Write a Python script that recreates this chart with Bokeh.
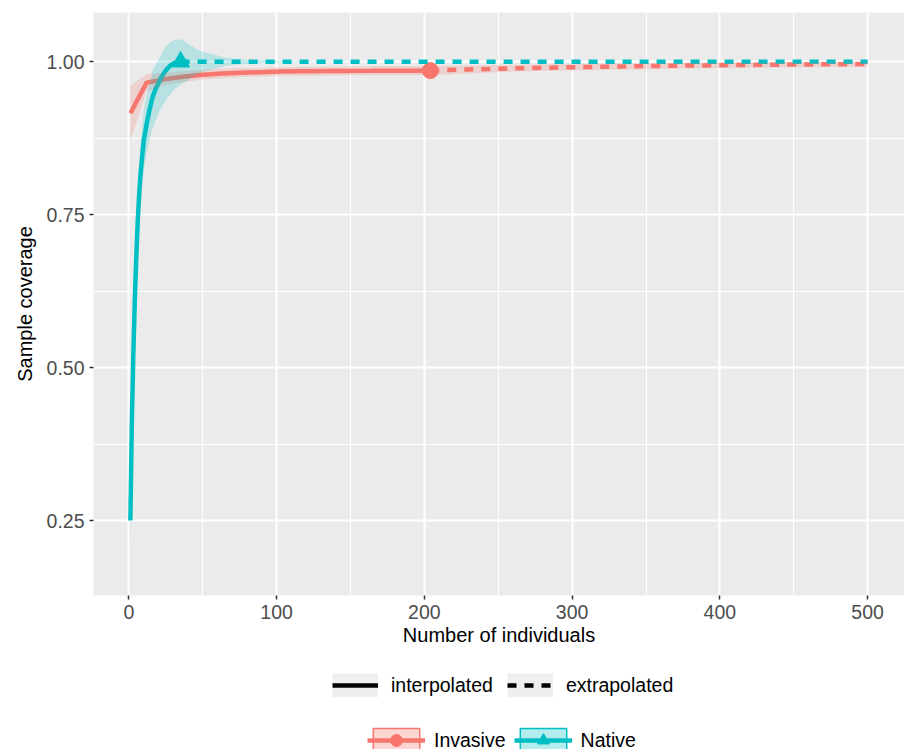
from bokeh.plotting import figure
from bokeh.layouts import column
from bokeh.models import Range1d, FixedTicker, Legend, LegendItem
from bokeh.embed import file_html
from bokeh.resources import INLINE

# ---------------- data ----------------
groups = ["Invasive", "Native"]
methods = ["interpolated", "extrapolated"]

# Invasive assemblage
inv_int_m = [1, 12, 25, 38, 50, 63, 76, 89, 102, 115, 140, 165, 190, 204]
inv_int_cov = [0.916, 0.966, 0.972, 0.976, 0.979, 0.981, 0.982, 0.983, 0.984, 0.9845, 0.985, 0.9852, 0.9855, 0.9856]
inv_int_lo = [0.871, 0.952, 0.962, 0.967, 0.971, 0.973, 0.975, 0.976, 0.977, 0.977, 0.978, 0.978, 0.978, 0.978]
inv_int_hi = [0.961, 0.980, 0.982, 0.985, 0.987, 0.989, 0.990, 0.990, 0.991, 0.992, 0.992, 0.993, 0.993, 0.993]
inv_ext_m = [204, 230, 260, 300, 350, 400, 450, 500]
inv_ext_cov = [0.9856, 0.9875, 0.9893, 0.9912, 0.993, 0.9945, 0.9955, 0.9963]
inv_ext_lo = [0.978, 0.981, 0.984, 0.986, 0.988, 0.990, 0.991, 0.992]
inv_ext_hi = [0.993, 0.994, 0.995, 0.9965, 0.9978, 0.999, 0.9998, 1.0005]
inv_obs_m = [204]
inv_obs_cov = [0.9856]

# Native assemblage
nat_int_m = [1, 2, 3, 4, 5, 6, 7, 8, 10, 12, 14, 16, 18, 20, 22, 25, 28, 31, 35]
nat_int_cov = [0.25, 0.41, 0.52, 0.61, 0.68, 0.74, 0.785, 0.82, 0.87, 0.898, 0.922,
               0.942, 0.955, 0.965, 0.975, 0.986, 0.994, 0.998, 1.0]
nat_int_lo = [0.20, 0.36, 0.47, 0.56, 0.63, 0.69, 0.735, 0.77, 0.82, 0.85, 0.872,
              0.89, 0.903, 0.915, 0.925, 0.937, 0.947, 0.955, 0.963]
nat_int_hi = [0.30, 0.46, 0.57, 0.66, 0.73, 0.79, 0.835, 0.87, 0.92, 0.946, 0.964,
              0.985, 0.995, 1.003, 1.012, 1.025, 1.032, 1.036, 1.037]
nat_ext_m = [35, 40, 45, 50, 57, 65, 75, 90, 120, 200, 300, 400, 500]
nat_ext_cov = [1.0] * 13
nat_ext_lo = [0.963, 0.970, 0.978, 0.984, 0.988, 0.993, 0.996, 0.998, 0.9995, 1.0, 1.0, 1.0, 1.0]
nat_ext_hi = [1.037, 1.030, 1.022, 1.016, 1.0125, 1.007, 1.004, 1.002, 1.0005, 1.0, 1.0, 1.0, 1.0]
nat_obs_m = [35]
nat_obs_cov = [1.0]

x_ticks = [0, 100, 200, 300, 400, 500]
x_minor = [50, 150, 250, 350, 450]
y_ticks = [0.25, 0.50, 0.75, 1.00]
y_tick_labels = ["0.25", "0.50", "0.75", "1.00"]
y_minor = [0.125, 0.375, 0.625, 0.875]

x_title = "Number of individuals"
y_title = "Sample coverage"

# ---------------- style ----------------
RED = "#F8766D"
TEAL = "#00BFC4"
FONT = "Liberation Sans"
LW = 4.5
DASH = "9 8"
W = 904
H_MAIN = 660
H_LEG = 749 - H_MAIN
FRAME_LEFT = 93

p = figure(width=W, height=H_MAIN,
           x_range=Range1d(-23.95, 524.95), y_range=Range1d(0.1275, 1.0806),
           output_backend="svg", toolbar_location=None,
           min_border_left=FRAME_LEFT, min_border_right=0, min_border_top=12,
           min_border_bottom=H_MAIN - 595)
p.background_fill_color = "#EBEBEB"
p.border_fill_color = "white"
p.outline_line_color = None

# axes / grid
p.xaxis.ticker = FixedTicker(ticks=x_ticks, minor_ticks=x_minor)
p.yaxis.ticker = FixedTicker(ticks=y_ticks, minor_ticks=y_minor)
p.yaxis.major_label_overrides = {t: l for t, l in zip(y_ticks, y_tick_labels)}
for ax in (p.xaxis, p.yaxis):
    ax.axis_line_color = None
    ax.major_tick_line_color = "#333333"
    ax.major_tick_line_width = 1.5
    ax.major_tick_out = 4
    ax.major_tick_in = 0
    ax.minor_tick_out = 0
    ax.minor_tick_in = 0
    ax.major_label_text_color = "#4D4D4D"
    ax.major_label_text_font = FONT
    ax.major_label_text_font_size = "19.5px"
    ax.axis_label_text_font = FONT
    ax.axis_label_text_font_size = "20px"
    ax.axis_label_text_font_style = "normal"
    ax.axis_label_text_color = "black"
p.xaxis.major_label_standoff = 5
p.xaxis.axis_label_standoff = 2
p.yaxis.major_label_standoff = 5
p.yaxis.axis_label_standoff = 8
p.xaxis.axis_label = x_title
p.yaxis.axis_label = y_title

for g in (p.xgrid, p.ygrid):
    g.grid_line_color = "white"
    g.grid_line_width = 2
    g.minor_grid_line_color = "white"
    g.minor_grid_line_width = 1

# observed points
p.scatter(inv_obs_m, inv_obs_cov, marker="circle", size=16, color=RED)
p.scatter(nat_obs_m, nat_obs_cov, marker="triangle", size=18, color=TEAL)

# lines
p.line(inv_int_m, inv_int_cov, line_color=RED, line_width=LW)
p.line(inv_ext_m, inv_ext_cov, line_color=RED, line_width=LW, line_dash=DASH)
p.line(nat_int_m, nat_int_cov, line_color=TEAL, line_width=LW)
p.line(nat_ext_m, nat_ext_cov, line_color=TEAL, line_width=LW, line_dash=DASH)

# confidence ribbons (drawn on top, as in ggiNEXT)
p.varea(x=inv_int_m + inv_ext_m[1:], y1=inv_int_lo + inv_ext_lo[1:], y2=inv_int_hi + inv_ext_hi[1:],
        fill_color=RED, fill_alpha=0.22)
p.varea(x=nat_int_m + nat_ext_m[1:], y1=nat_int_lo + nat_ext_lo[1:], y2=nat_int_hi + nat_ext_hi[1:],
        fill_color=TEAL, fill_alpha=0.22)

# ---------------- legend strip (separate canvas below the plot) ----------------
q = figure(width=W, height=H_LEG, x_range=Range1d(0, 1), y_range=Range1d(0, 1),
           output_backend="svg", toolbar_location=None,
           x_axis_type=None, y_axis_type=None,
           min_border_left=0, min_border_right=0, min_border_top=0, min_border_bottom=0)
q.grid.visible = False
q.outline_line_color = None
q.background_fill_color = "white"
q.border_fill_color = "white"

# hidden proxy renderers used only to draw the legend keys
bg_a = q.line(inv_int_m, inv_int_cov, line_color="#EFEFEF", line_width=24, visible=False)
bg_b = q.line(inv_int_m, inv_int_cov, line_color="#EFEFEF", line_width=24, visible=False)
k_solid = q.line(inv_int_m, inv_int_cov, line_color="black", line_width=LW, visible=False)
k_dash = q.line(inv_int_m, inv_int_cov, line_color="black", line_width=LW, line_dash=DASH, visible=False)

# the legend strip's frame is aligned with the main plot frame (left edge at FRAME_LEFT)
LEG1_TOP = 673 - H_MAIN
LEG2_TOP = 725 - H_MAIN
leg1 = Legend(items=[LegendItem(label=methods[0], renderers=[bg_a, k_solid]),
                     LegendItem(label=methods[1], renderers=[bg_b, k_dash])],
              location=(332 - FRAME_LEFT, H_LEG - LEG1_TOP - 24), orientation="horizontal",
              glyph_width=46, glyph_height=24, label_standoff=13, spacing=14,
              padding=0, margin=0, border_line_alpha=0, background_fill_alpha=0,
              inactive_fill_alpha=0,
              label_text_font=FONT, label_text_font_size="19.5px", label_text_color="black")
q.add_layout(leg1)

box_r = q.rect(inv_obs_m, inv_obs_cov, width=1, height=0.01, fill_color=RED, fill_alpha=0.3,
               line_color=RED, line_width=1.5, visible=False)
ln_r = q.line(inv_int_m, inv_int_cov, line_color=RED, line_width=LW, visible=False)
pt_r = q.scatter(inv_obs_m, inv_obs_cov, marker="circle", size=16, color=RED, visible=False)
box_t = q.rect(nat_obs_m, nat_obs_cov, width=1, height=0.01, fill_color=TEAL, fill_alpha=0.3,
               line_color=TEAL, line_width=1.5, visible=False)
ln_t = q.line(nat_int_m, nat_int_cov, line_color=TEAL, line_width=LW, visible=False)
pt_t = q.scatter(nat_obs_m, nat_obs_cov, marker="triangle", size=18, color=TEAL, visible=False)

leg2 = Legend(items=[LegendItem(label=groups[0], renderers=[box_r, ln_r, pt_r]),
                     LegendItem(label=groups[1], renderers=[box_t, ln_t, pt_t])],
              location=(367 - FRAME_LEFT, H_LEG - LEG2_TOP - 30), orientation="horizontal",
              glyph_width=58, glyph_height=30, label_standoff=9, spacing=8,
              padding=0, margin=0, border_line_alpha=0, background_fill_alpha=0,
              inactive_fill_alpha=0,
              label_text_font=FONT, label_text_font_size="19.5px", label_text_color="black")
q.add_layout(leg2)

page = column(p, q, spacing=0)
open("out.html", "w").write(file_html(page, INLINE))
